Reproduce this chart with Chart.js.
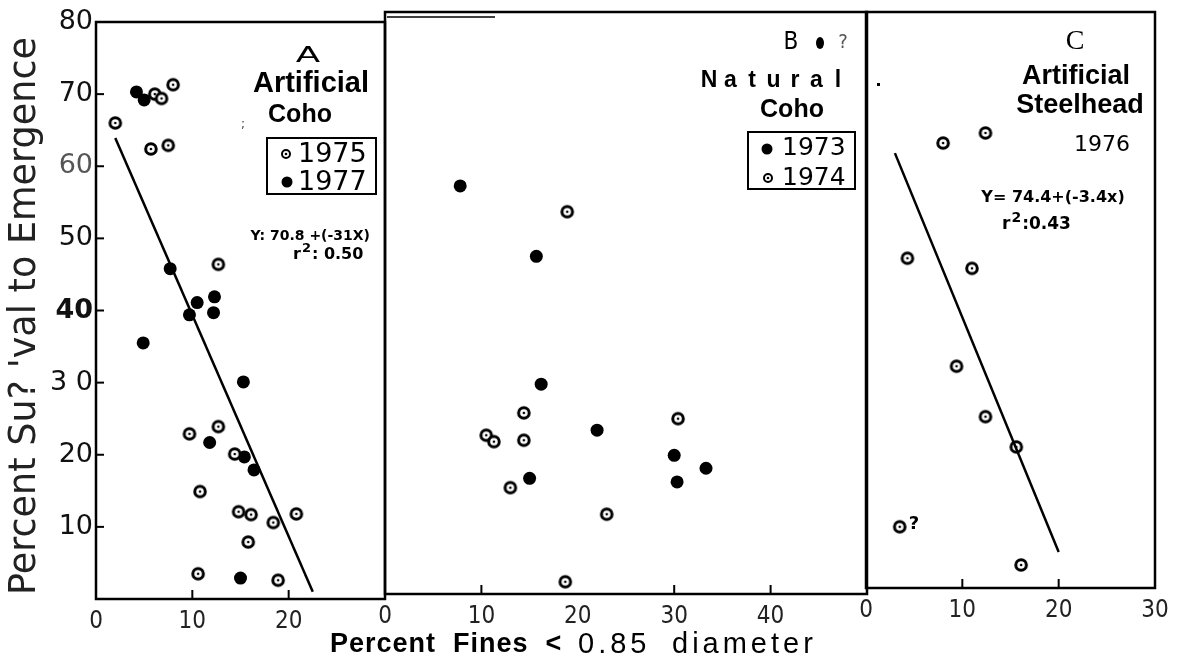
<!DOCTYPE html>
<html>
<head>
<meta charset="utf-8">
<script src="https://cdn.jsdelivr.net/npm/chart.js@4/dist/chart.umd.min.js"></script>
<style>
  body { margin: 0; background: #fff; }
  canvas { position: absolute; left: 0; top: 0; }
</style>
</head>
<body>
<canvas id="panelA" width="1182" height="669"></canvas>
<canvas id="panelB" width="1182" height="669"></canvas>
<canvas id="panelC" width="1182" height="669"></canvas>
<script>
// A - artificial coho, [percent fines, percent survival]
const artCoho1975 = [[2.0,66.0],[6.1,70.0],[6.8,69.4],[8.0,71.3],[5.7,62.4],[7.5,62.9],[12.7,46.4],
  [9.7,22.9],[12.7,23.9],[14.4,20.1],[10.8,14.9],[14.8,12.1],[16.1,11.7],[20.8,11.8],[18.4,10.6],
  [15.8,7.9],[10.6,3.5],[18.9,2.6]];
const artCoho1977 = [[4.2,70.3],[5.0,69.2],[7.7,45.8],[10.5,41.1],[12.3,41.9],[9.7,39.4],[12.2,39.7],
  [4.9,35.5],[15.3,30.1],[11.8,21.7],[15.4,19.7],[16.4,17.9],[15.0,2.9]];
const fitA = [[2.0,63.9],[22.5,1.0]];

// B - natural coho
const natCoho1973 = [[7.8,56.8],[15.7,47.0],[16.2,29.2],[22.0,22.8],[30.0,19.3],[33.3,17.5],[15.0,16.1],[30.3,15.6]];
const natCoho1974 = [[18.9,53.2],[14.4,25.2],[30.4,24.4],[10.5,22.1],[11.3,21.2],[14.4,21.4],[13.0,14.8],[23.0,11.1],[18.7,1.7]];

// C - artificial steelhead
const steel1976 = [[8.0,61.8],[12.4,63.2],[4.3,45.8],[11.0,44.4],[9.4,30.8],[12.4,23.8],[15.6,19.6],[3.5,8.5],[16.1,3.2]];
const fitC = [[3.0,60.4],[20.0,5.0]];

const yTicks = [10, 20, 30, 40, 50, 60, 70, 80];
const xMaxA = 30, xMaxB = 50, xMaxC = 30;

const W = 1182, H = 669;
const narrow = '"Liberation Sans Narrow", "DejaVu Sans Condensed", sans-serif';
const gothic = '"DejaVu Sans", sans-serif';
const arial = '"Liberation Sans", Arial, sans-serif';

// open circle with a dot in the middle
function ringCanvas(r, lw) {
  const s = Math.ceil(2 * r + lw + 2);
  const c = document.createElement('canvas');
  c.width = c.height = s;
  const g = c.getContext('2d');
  g.fillStyle = '#fff'; g.strokeStyle = '#000'; g.lineWidth = lw;
  g.beginPath(); g.arc(s / 2, s / 2, r, 0, Math.PI * 2); g.fill(); g.stroke();
  g.fillStyle = '#000';
  g.beginPath(); g.arc(s / 2, s / 2, 1.3, 0, Math.PI * 2); g.fill();
  return c;
}
const ring = ringCanvas(5.3, 3);
const ringSmall = ringCanvas(4, 2);

const toXY = arr => arr.map(p => ({x: p[0], y: p[1]}));
const openSet = d => ({data: toXY(d), pointStyle: ring, pointRadius: 7});
const filledSet = d => ({data: toXY(d), pointStyle: 'circle', pointRadius: 6.5, backgroundColor: '#000', borderWidth: 0});
const lineSet = d => ({data: toXY(d), showLine: true, pointRadius: 0, borderColor: '#000', borderWidth: 2.5});

function txt(ctx, s, x, y, font, align, color, spacing) {
  ctx.save();
  ctx.font = font;
  ctx.textAlign = align || 'center';
  ctx.textBaseline = 'middle';
  ctx.fillStyle = color || '#000';
  if (spacing) ctx.letterSpacing = spacing + 'px';
  ctx.fillText(s, x, y);
  const w = ctx.measureText(s).width;
  ctx.restore();
  return w;
}
function dot(ctx, x, y, r) {
  ctx.beginPath(); ctx.arc(x, y, r, 0, Math.PI * 2); ctx.fillStyle = '#000'; ctx.fill();
}
// "r" with a raised 2, then the value
function rSquared(ctx, x, y, size, rest) {
  let w = txt(ctx, 'r', x, y, 'bold ' + size + 'px ' + gothic, 'left');
  w += txt(ctx, '2', x + w + 1, y - size * 0.4, 'bold ' + Math.round(size * 0.8) + 'px ' + gothic, 'left') + 2;
  txt(ctx, rest, x + w, y, 'bold ' + size + 'px ' + gothic, 'left');
}

function frame(marksX, marksY) {
  return {
    id: 'frame',
    afterDraw(chart) {
      const {ctx, chartArea: a, scales} = chart;
      ctx.save();
      ctx.strokeStyle = '#000';
      ctx.lineWidth = 2.5;
      ctx.strokeRect(a.left, a.top, a.right - a.left, a.bottom - a.top);
      ctx.lineWidth = 2;
      marksX.forEach(v => {
        const px = scales.x.getPixelForValue(v);
        ctx.beginPath(); ctx.moveTo(px, a.bottom); ctx.lineTo(px, a.bottom - 9); ctx.stroke();
      });
      marksY.forEach(v => {
        const py = scales.y.getPixelForValue(v);
        ctx.beginPath(); ctx.moveTo(a.left, py); ctx.lineTo(a.left + 8, py); ctx.stroke();
      });
      ctx.restore();
    }
  };
}

function panel(id, area, xMax, yMax, datasets, hideX, marksX, showY, draw) {
  return new Chart(id, {
    type: 'scatter',
    data: {datasets},
    options: {
      responsive: false,
      animation: false,
      layout: {padding: {top: area.top, right: W - area.right, bottom: 0, left: 0}},
      plugins: {legend: {display: false}, tooltip: {enabled: false}},
      scales: {
        x: {
          min: 0, max: xMax,
          grid: {display: false, drawTicks: false},
          border: {display: false},
          afterFit: s => { s.height = H - area.bottom; },
          ticks: {
            stepSize: 10, autoSkip: false, maxRotation: 0, padding: 8,
            color: '#222',
            font: {family: narrow, size: 24},
            callback: v => (v === hideX ? '' : String(v))
          }
        },
        y: {
          display: showY,
          min: 0, max: yMax,
          grid: {display: false, drawTicks: false},
          border: {display: false},
          afterFit: s => { s.width = area.left; },
          ticks: {
            stepSize: 10, padding: 3,
            color: c => (c.tick && c.tick.value === 60 ? '#555' : '#111'),
            font: c => ({family: gothic, size: 27, weight: c.tick && c.tick.value === 40 ? 'bold' : 'normal'}),
            callback: v => (v === 0 ? '' : v === 30 ? '3 0' : String(v))
          }
        }
      }
    },
    plugins: [frame(marksX, showY ? yTicks.slice(0, 7) : []), {id: 'notes', afterDraw: c => draw(c.ctx)}]
  });
}

// Panel A
panel('panelA', {left: 96, right: 385, top: 22, bottom: 599}, xMaxA, 80,
  [lineSet(fitA), openSet(artCoho1975), filledSet(artCoho1977)], 30, [10, 20], true, ctx => {
    ctx.save();
    ctx.translate(308, 57); ctx.scale(1.7, 1);
    txt(ctx, 'A', 0, 0, '21px ' + gothic);
    ctx.restore();
    txt(ctx, 'Artificial', 311, 84, 'bold 29px ' + arial);
    txt(ctx, 'Coho', 300, 115, 'bold 25px ' + arial);
    txt(ctx, ';', 243, 125, '12px ' + gothic, 'center', '#444');
    ctx.lineWidth = 2; ctx.strokeStyle = '#000';
    ctx.strokeRect(267, 138, 109, 56);
    ctx.drawImage(ringSmall, 286 - ringSmall.width / 2, 154 - ringSmall.height / 2);
    txt(ctx, '1975', 298, 155, '27px ' + gothic, 'left');
    dot(ctx, 287, 182, 5.5);
    txt(ctx, '1977', 298, 183, '27px ' + gothic, 'left');
    txt(ctx, 'Y: 70.8 +(-31X)', 370, 236, 'bold 14px ' + gothic, 'right');
    rSquared(ctx, 293, 255, 16, ': 0.50');
    // axis titles
    ctx.save();
    ctx.translate(25, 316);
    ctx.rotate(-Math.PI / 2);
    ctx.font = '37px ' + gothic;
    ctx.textAlign = 'center'; ctx.textBaseline = 'middle'; ctx.fillStyle = '#222';
    ctx.fillText("Percent Su? 'val to Emergence", 0, 0, 558);
    ctx.restore();
    txt(ctx, 'Percent  Fines  <', 330, 645, 'bold 27px ' + arial, 'left', '#000', 1);
    txt(ctx, '0.85', 578, 645, '29px ' + arial, 'left', '#000', 4);
    txt(ctx, 'diameter', 672, 645, '29px ' + arial, 'left', '#000', 4);
  });

// Panel B
panel('panelB', {left: 385, right: 867, top: 12, bottom: 594}, xMaxB, 81,
  [openSet(natCoho1974), filledSet(natCoho1973)], 50, [10, 30, 40], false, ctx => {
    txt(ctx, 'B', 791, 43, '24px ' + narrow);
    ctx.beginPath(); ctx.ellipse(820, 43, 4, 6, 0, 0, Math.PI * 2); ctx.fillStyle = '#000'; ctx.fill();
    txt(ctx, '?', 843, 43, '20px ' + narrow, 'center', '#555');
    'Natural'.split('').forEach((ch, i) => txt(ctx, ch, 709 + i * 21.5, 81, 'bold 23px ' + arial));
    txt(ctx, 'Coho', 792, 110, 'bold 25px ' + arial);
    ctx.lineWidth = 2; ctx.strokeStyle = '#000';
    ctx.strokeRect(748, 132, 107, 57);
    dot(ctx, 767, 149, 5.5);
    txt(ctx, '1973', 782, 148, '25px ' + gothic, 'left');
    ctx.drawImage(ringSmall, 768 - ringSmall.width / 2, 178 - ringSmall.height / 2);
    txt(ctx, '1974', 782, 178, '25px ' + gothic, 'left');
    ctx.lineWidth = 1.5;
    ctx.beginPath(); ctx.moveTo(387, 17); ctx.lineTo(495, 17); ctx.stroke();
  });

// Panel C
panel('panelC', {left: 866, right: 1155, top: 12, bottom: 588}, xMaxC, 80,
  [lineSet(fitC), openSet(steel1976)], null, [10, 20], false, ctx => {
    txt(ctx, 'C', 1075, 42, '28px "Liberation Serif", serif');
    txt(ctx, 'Artificial', 1076, 77, 'bold 27px ' + arial);
    txt(ctx, 'Steelhead', 1080, 106, 'bold 27px ' + arial);
    txt(ctx, '1976', 1102, 145, '22px ' + gothic);
    txt(ctx, 'Y= 74.4+(-3.4x)', 1053, 198, '600 16px ' + gothic);
    rSquared(ctx, 1002, 225, 17, ':0.43');
    txt(ctx, '?', 914, 524, 'bold 18px ' + gothic);
    ctx.fillStyle = '#000';
    ctx.fillRect(877, 83, 3, 3);
  });
</script>
</body>
</html>
